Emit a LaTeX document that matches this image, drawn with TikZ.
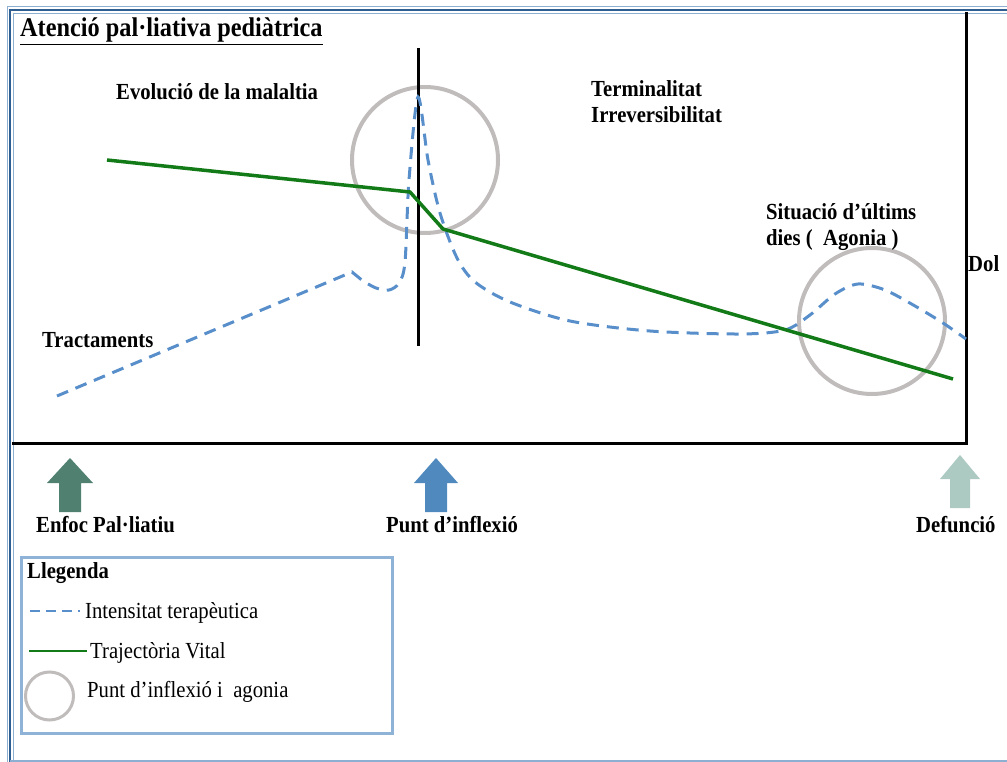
\documentclass[tikz,border=0pt]{standalone}
\usepackage{fontspec}
\setmainfont{Liberation Serif}[FakeStretch=0.9]
\usetikzlibrary{positioning}

\definecolor{blauint}{RGB}{88,143,202}
\definecolor{verdvital}{RGB}{18,122,22}
\definecolor{grisc}{RGB}{192,188,188}
\definecolor{fletxaverda}{RGB}{80,128,112}
\definecolor{fletxablava}{RGB}{80,137,190}
\definecolor{fletxaclara}{RGB}{172,202,194}
\definecolor{vorallegenda}{RGB}{143,178,215}
\definecolor{marcfosc}{RGB}{47,94,146}
\definecolor{marcclar}{RGB}{140,175,210}

\begin{document}
\begin{tikzpicture}[x=1pt,y=-1pt,
	titol/.style={font=\fontsize{27}{30}\selectfont\bfseries,inner sep=0pt,anchor=base west},
	etiqueta/.style={font=\fontsize{23}{26}\selectfont\bfseries,inner sep=0pt,anchor=base west},
	llegtext/.style={font=\fontsize{23}{26}\selectfont,inner sep=0pt,anchor=base west},
	intensitat/.style={color=blauint,line width=3pt,dash pattern=on 12pt off 8pt},
	vital/.style={color=verdvital,line width=3.5pt},
	cercle/.style={draw=grisc,line width=4pt}]
		\useasboundingbox (0,0) rectangle (1007,762);
		
		%Marc exterior
		\draw[marcclar,line width=1pt] (7,762) -- (7,7) -- (1007,7);
		\draw[marcfosc,line width=2.5pt] (10,762) -- (10,10) -- (1007,10);
		\draw[marcclar,line width=1.5pt] (13.5,762) -- (13.5,13.5) -- (1007,13.5);
		\draw[marcclar,line width=1.5pt] (10,761) -- (1007,761);
		
		%Requadre del grafic
		\draw[line width=3pt] (12,443) -- (966,443) -- (966,12);
		
		%Cercles
		\draw[cercle] (425,160) circle[radius=73pt];
		\draw[cercle] (872,321) circle[radius=73pt];
		
		\draw[line width=3pt] (418,48) -- (418,346);
		
		%Intensitat terapeutica
		\draw[intensitat] (57,396) -- (352,272) -- (363,281)
			-- plot[smooth,tension=0.5] coordinates {(363,281) (376,288) (389,290) (399,283) (405,262) (409,180) (418,97) (428,160) (440,213) (457,258) (475,282) (510,302) (570,321) (650,331) (740,334) (785,330) (810,315) (835,294) (858,284) (885,290) (915,306) (943,323) (966,339)};
		
		%Trajectoria vital
		\draw[vital] (107,160) -- (410,192) -- (443,229) -- (953,379);
		
		%Textos
		\node[titol] (titol) at (20,37) {\underline{Atenció pal·liativa pediàtrica}};
		\node[etiqueta] (evolucio) at (116,100) {Evolució de la malaltia};
		\node[etiqueta,align=left] (terminal) at (591,123) {Terminalitat\\Irreversibilitat};
		\node[etiqueta,align=left] (ultims) at (766,246) {Situació d’últims\\dies (\ \ Agonia )};
		\node[etiqueta] (dol) at (968,272) {Dol};
		\node[etiqueta] (tractaments) at (42,347) {Tractaments};
		
		%Fletxa
		\def\x{70}
		\fill[fletxaverda] (\x-11,512) -- (\x-11,483) -- (\x-23,483) -- (\x,458) -- (\x+23,483) -- (\x+11,483) -- (\x+11,512) -- cycle;
		\node[etiqueta] (enfoc) at (36,532) {Enfoc Pal·liatiu};
		
		%Fletxa
		\def\x{436}
		\fill[fletxablava] (\x-11,512) -- (\x-11,483) -- (\x-22,483) -- (\x,458) -- (\x+22,483) -- (\x+11,483) -- (\x+11,512) -- cycle;
		\node[etiqueta] (punt) at (386,532) {Punt d’inflexió};
		
		%Fletxa
		\def\x{960}
		\fill[fletxaclara] (\x-10,508) -- (\x-10,479) -- (\x-20,479) -- (\x,455) -- (\x+20,479) -- (\x+10,479) -- (\x+10,508) -- cycle;
		\node[etiqueta] (defuncio) at (916,532) {Defunció};
		
		%Llegenda
		\draw[vorallegenda,line width=3pt] (21,557) rectangle (392,733);
		\node[etiqueta] (llegenda) at (27,578) {Llegenda};
		\draw[intensitat,line width=2pt,dash pattern=on 10pt off 6pt] (30,611) -- (80,611);
		\node[llegtext] (lintens) at (85,618) {Intensitat terapèutica};
		\draw[vital,line width=2pt] (29,651) -- (87,651);
		\node[llegtext] (lvital) at (90,658) {Trajectòria Vital};
		\draw[cercle,line width=3pt] (49.5,696) circle[radius=24pt];
		\node[llegtext] (lcercle) at (87,697) {Punt d’inflexió i\ \ agonia};
\end{tikzpicture}
\end{document}
